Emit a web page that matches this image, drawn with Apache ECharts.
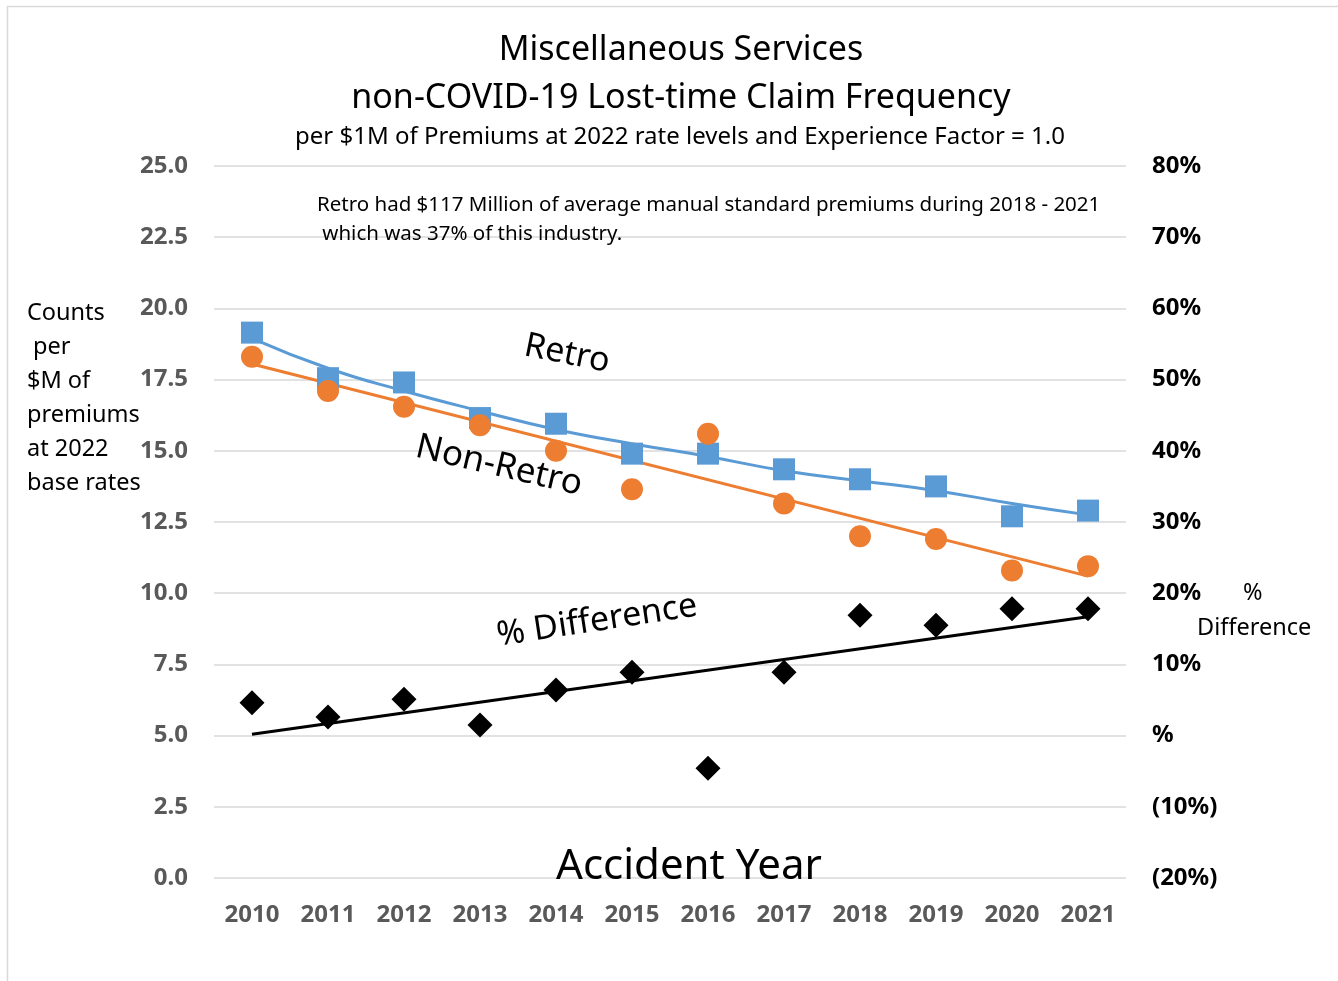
<!DOCTYPE html>
<html style="height: 100%">
<head>
<meta charset="utf-8">
<script src="https://cdn.jsdelivr.net/npm/echarts@6/dist/echarts.min.js"></script>
</head>
<body style="height: 100%; margin: 0; background: #fff">
<div id="container" style="width: 1338px; height: 981px"></div>
<script>
var years = ['2010', '2011', '2012', '2013', '2014', '2015', '2016', '2017', '2018', '2019', '2020', '2021'];
var retro = [19.15, 17.55, 17.4, 16.15, 15.95, 14.9, 14.9, 14.35, 14.0, 13.75, 12.7, 12.9];
var nonRetro = [18.3, 17.1, 16.55, 15.9, 15.0, 13.65, 15.6, 13.15, 12.0, 11.9, 10.8, 10.95];
var pctDiff = [4.6, 2.6, 5.1, 1.5, 6.4, 8.9, -4.6, 8.9, 16.9, 15.5, 17.8, 17.8];
// trendlines
var retroTrend = [18.95, 17.9, 17.1, 16.4, 15.75, 15.25, 14.8, 14.3, 13.95, 13.6, 13.15, 12.75];
var nonRetroTrend = [['2010', 18.05], ['2021', 10.6]];
var diffTrend = [['2010', 0.2], ['2021', 16.7]];

var FONT = 'Noto Sans';
var dom = document.getElementById('container');
var myChart = echarts.init(dom);

function label(x, y, text, size, extra) {
    var el = {
        type: 'text', x: x, y: y, z: 100,
        style: { text: text, font: size + 'px "Noto Sans"', fill: '#000', align: 'center', verticalAlign: 'middle' }
    };
    return Object.assign(el, extra || {});
}

var option = {
    animation: false,
    backgroundColor: '#fff',
    textStyle: { fontFamily: FONT },
    grid: { left: 214, right: 212, top: 166, bottom: 103 },
    xAxis: {
        type: 'category',
        data: years,
        axisLine: { show: false },
        axisTick: { show: false },
        axisLabel: { color: '#595959', fontWeight: 'bold', fontSize: 24, margin: 25, fontFamily: FONT }
    },
    yAxis: [
        {
            type: 'value', min: 0, max: 25, interval: 2.5,
            axisLine: { show: false }, axisTick: { show: false },
            splitLine: { lineStyle: { color: '#d9d9d9', width: 1.5 } },
            axisLabel: {
                color: '#595959', fontWeight: 'bold', fontSize: 24, margin: 26, fontFamily: FONT,
                formatter: function (v) { return v.toFixed(1); }
            }
        },
        {
            type: 'value', min: -20, max: 80, interval: 10,
            axisLine: { show: false }, axisTick: { show: false },
            splitLine: { show: false },
            axisLabel: {
                color: '#000', fontWeight: 'bold', fontSize: 24, margin: 26, fontFamily: FONT,
                formatter: function (v) {
                    if (v === 0) return '%';
                    if (v < 0) return '(' + Math.abs(v) + '%)';
                    return v + '%';
                }
            }
        }
    ],
    series: [
        {
            name: 'Retro trend', type: 'line', data: retroTrend, smooth: true,
            showSymbol: false, lineStyle: { color: '#5b9bd5', width: 3 }, z: 2
        },
        {
            name: 'Non-Retro trend', type: 'line', data: nonRetroTrend,
            showSymbol: false, lineStyle: { color: '#ed7d31', width: 3 }, z: 2
        },
        {
            name: 'Diff trend', type: 'line', data: diffTrend, yAxisIndex: 1,
            showSymbol: false, lineStyle: { color: '#000', width: 3 }, z: 2
        },
        {
            name: 'Retro', type: 'scatter', data: retro, symbol: 'rect', symbolSize: 22,
            itemStyle: { color: '#5b9bd5', opacity: 1 }, z: 3
        },
        {
            name: 'Non-Retro', type: 'scatter', data: nonRetro, symbol: 'circle', symbolSize: 22,
            itemStyle: { color: '#ed7d31', opacity: 1 }, z: 4
        },
        {
            name: '% Difference', type: 'scatter', data: pctDiff, yAxisIndex: 1,
            symbol: 'diamond', symbolSize: 25,
            itemStyle: { color: '#000', opacity: 1 }, z: 4
        }
    ],
    graphic: [
        {
            type: 'rect', silent: true, z: -10,
            shape: { x: 7.5, y: 6.5, width: 1400, height: 1000 },
            style: { fill: null, stroke: '#d9d9d9', lineWidth: 1.5 }
        },
        label(681, 50, 'Miscellaneous Services', 34),
        label(681, 98, 'non-COVID-19 Lost-time Claim Frequency', 34),
        label(680, 137, 'per $1M of Premiums at 2022 rate levels and Experience Factor = 1.0', 24),
        {
            type: 'text', left: 317, top: 191, z: 100,
            style: {
                text: 'Retro had $117 Million of average manual standard premiums during 2018 - 2021\n which was 37% of this industry.',
                font: '20.5px "Noto Sans"', fill: '#000', lineHeight: 29
            }
        },
        {
            type: 'text', left: 27, top: 296, z: 100,
            style: {
                text: 'Counts\n per\n$M of\npremiums\nat 2022\nbase rates',
                font: '23.5px "Noto Sans"', fill: '#000', lineHeight: 34
            }
        },
        {
            type: 'text', left: 1243, top: 581, z: 100,
            style: { text: '%', font: '23.5px "Noto Sans"', fill: '#000' }
        },
        {
            type: 'text', left: 1197, top: 616, z: 100,
            style: { text: 'Difference', font: '23.5px "Noto Sans"', fill: '#000' }
        },
        label(567, 354, 'Retro', 34, { rotation: -0.2 }),
        label(499, 466, 'Non-Retro', 35, { rotation: -0.23 }),
        label(597, 621, '% Difference', 34, { rotation: 0.15 }),
        label(689, 867, 'Accident Year', 42)
    ]
};

myChart.setOption(option);
</script>
</body>
</html>
